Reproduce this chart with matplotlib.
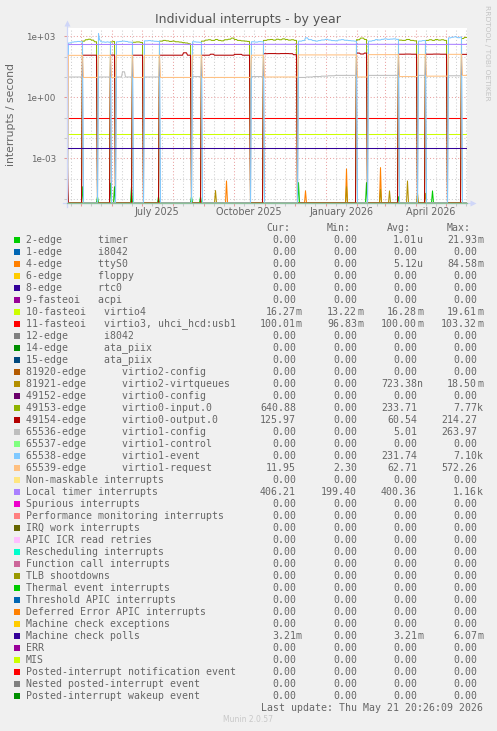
import numpy as np
import matplotlib
matplotlib.use('Agg')
import matplotlib.pyplot as plt
import matplotlib.dates as mdates
from matplotlib.patches import Rectangle
from matplotlib.ticker import FixedLocator, FixedFormatter, NullFormatter
from datetime import datetime, timedelta

# ------------------------------------------------------------------------------
# Data (daily averages, 400 days ending at last update)
# ------------------------------------------------------------------------------
end_time = datetime(2026, 5, 21, 20, 26, 9)
n_days = 400

# reboot days (counted from left edge); between them either the virtio1 set
# ('B') or the virtio0 set ('A') of devices was carrying the traffic
boot_days = [15, 30, 43, 48, 65, 76, 92, 124, 134, 183, 196, 230, 289, 300,
             331, 350, 358, 380, 394]
seg_mode = ['B', 'A', 'B', 'A', 'B', 'A', 'B', 'A', 'B', 'A',
            'B', 'A', 'B', 'A', 'B', 'A', 'B', 'A', 'B', 'A']

# 65538-edge virtio1-event, one list per 'B' segment
virtio1_event = [
    [470, 520, 540, 560, 540],
    [1350, 700, 580, 540, 520, 540, 520, 510, 520, 540, 520, 510, 520],
    [540, 560, 580, 560, 520, 510],
    [600, 620, 590, 570, 560],
    [540, 520, 510],
    [540, 520, 550, 540],
    [580, 620, 840, 690, 620, 580, 620, 660, 710, 660, 620, 600, 660, 690,
     640, 620, 600, 580],
    [580, 620, 690, 660, 710, 750, 710, 730, 750, 710],
    [580, 620],
    [840, 900, 950, 860, 920],
]
# 65536-edge virtio1-config, one list per 'B' segment
virtio1_config = [
    [10], [10], [10, 10, 18, 10, 10, 10], [10], [10.5], [10.5],
    [9.5, 10, 10.5, 11, 11.5, 12, 12, 12], [12], [12], [11.5],
]
# 65539-edge virtio1-request: level in 'B' segments / in 'A' segments
virtio1_request_b = [116, 116, 116, 116, 118, 118, 122, 126, 128, 130]
virtio1_request_a = [9.5, 9.5, 9.5, 9.5, 9.5, 10, 10, 10.5, 11, 12]

# 49153-edge virtio0-input.0, one list per 'A' segment
virtio0_input = [
    [580, 680, 720, 650, 540],
    [530, 560],
    [510, 530, 500],
    [580, 630, 600, 560, 580, 540, 520, 490, 470, 430],
    [580, 650, 680, 630, 700, 630, 600, 680, 720, 820, 700, 630, 600, 580, 560],
    [630, 680, 700, 650, 720, 680, 750, 700, 650, 680, 630],
    [680, 820, 700],
    [650, 630, 700, 630, 600],
    [630, 680, 630, 700, 650, 680, 630],
    [780, 880],
]
# 49154-edge virtio0-output.0, one list per 'A' segment
virtio0_output = [
    [118],
    [120],
    [118],
    [118, 118, 118, 118, 118, 118, 155, 118],
    [118, 118, 132, 118, 118, 118, 118, 118, 130, 130, 118, 118],
    [140, 142, 142, 140, 142, 142, 140, 125],
    [150, 135, 150],
    [132, 134, 132],
    [132, 134, 132],
    [130],
]
output_day0 = 4e-4

# Local timer interrupts, level per segment
loc_timer = [395, 400, 400, 395, 400, 400, 405, 400, 395, 400,
             405, 400, 405, 400, 405, 400, 405, 395, 405, 400]

# flat series
irq10_level = 0.01628
irq11_level = 0.1000
mcp_level = 0.00321

# small one-day spikes near the bottom
timer_days = [0, 15, 30, 43, 47, 64, 91, 124, 133, 231, 299, 331, 365]
timer_vals = [2.3e-5, 4e-5, 1.3e-5, 6e-5, 4e-5, 4e-5, 1.3e-5, 1.3e-5, 1.3e-5,
              6.4e-5, 6.4e-5, 1.3e-5, 2.5e-5]
ttys_days = [159, 238, 279, 313]
ttys_vals = [7.7e-5, 2.5e-5, 3.0e-4, 3.5e-4]
virtq_days = [148, 279, 313, 322, 340, 350, 358]
virtq_vals = [2.6e-5, 4e-5, 3e-5, 2.5e-5, 7.7e-5, 1.9e-5, 1.9e-5]

# legend
labels = [
    '2-edge      timer', '1-edge      i8042', '4-edge      ttyS0',
    '6-edge      floppy', '8-edge      rtc0', '9-fasteoi   acpi',
    '10-fasteoi   virtio4', '11-fasteoi   virtio3, uhci_hcd:usb1',
    '12-edge      i8042', '14-edge      ata_piix', '15-edge      ata_piix',
    '81920-edge      virtio2-config', '81921-edge      virtio2-virtqueues',
    '49152-edge      virtio0-config', '49153-edge      virtio0-input.0',
    '49154-edge      virtio0-output.0', '65536-edge      virtio1-config',
    '65537-edge      virtio1-control', '65538-edge      virtio1-event',
    '65539-edge      virtio1-request', 'Non-maskable interrupts',
    'Local timer interrupts', 'Spurious interrupts',
    'Performance monitoring interrupts', 'IRQ work interrupts',
    'APIC ICR read retries', 'Rescheduling interrupts',
    'Function call interrupts', 'TLB shootdowns', 'Thermal event interrupts',
    'Threshold APIC interrupts', 'Deferred Error APIC interrupts',
    'Machine check exceptions', 'Machine check polls', 'ERR', 'MIS',
    'Posted-interrupt notification event', 'Nested posted-interrupt event',
    'Posted-interrupt wakeup event',
]
colors = [
    '#00CC00', '#0066B3', '#FF8000', '#FFCC00', '#330099', '#990099',
    '#CCFF00', '#FF0000', '#808080', '#008F00', '#00487D', '#B35A00',
    '#B38F00', '#6B006B', '#8FB300', '#B30000', '#BEBEBE', '#80FF80',
    '#80C9FF', '#FFC080', '#FFE680', '#AA80FF', '#EE00CC', '#FF8080',
    '#666600', '#FFBFFF', '#00FFCC', '#CC6699', '#999900', '#00CC00',
    '#0066B3', '#FF8000', '#FFCC00', '#330099', '#990099', '#CCFF00',
    '#FF0000', '#808080', '#008F00',
]
cur_vals = [0] * 39
min_vals = [0] * 39
avg_vals = [0] * 39
max_vals = [0] * 39
stats = {
    0: (0, 0, 1.01e-6, 21.93e-3),
    2: (0, 0, 5.12e-6, 84.58e-3),
    6: (16.27e-3, 13.22e-3, 16.28e-3, 19.61e-3),
    7: (100.01e-3, 96.83e-3, 100.00e-3, 103.32e-3),
    12: (0, 0, 723.38e-9, 18.50e-3),
    14: (640.88, 0, 233.71, 7.77e3),
    15: (125.97, 0, 60.54, 214.27),
    16: (0, 0, 5.01, 263.97),
    18: (0, 0, 231.74, 7.10e3),
    19: (11.95, 2.30, 62.71, 572.26),
    21: (406.21, 199.40, 400.36, 1.16e3),
    33: (3.21e-3, 0, 3.21e-3, 6.07e-3),
}
for k, (c, mn, av, mx) in stats.items():
    cur_vals[k], min_vals[k], avg_vals[k], max_vals[k] = c, mn, av, mx

# ------------------------------------------------------------------------------
# Build daily arrays
# ------------------------------------------------------------------------------
edges = [0] + boot_days + [n_days]


def fill(arr, start, stop, vals):
    stop = min(stop, n_days)
    n = stop - start
    for j in range(n):
        arr[start + j] = vals[j * len(vals) // n]


series = {i: np.zeros(n_days) for i in range(39)}
ib = ia = 0
for seg, (s, e, mode) in enumerate(zip(edges[:-1], edges[1:], seg_mode)):
    if mode == 'B':
        fill(series[18], s + 1, e + 1, virtio1_event[ib])
        fill(series[16], s + 1, e + 1, virtio1_config[ib])
        fill(series[19], s + 1, e + 1, [virtio1_request_b[ib]])
        ib += 1
    else:
        fill(series[14], s, e, virtio0_input[ia])
        fill(series[15], s, e, virtio0_output[ia])
        fill(series[19], s + 1, e + 1, [virtio1_request_a[ia]])
        ia += 1
    fill(series[21], s, e, [loc_timer[seg]])
series[15][0] = output_day0
series[6][:] = irq10_level
series[7][:] = irq11_level
series[33][:] = mcp_level
series[0][timer_days] = timer_vals
series[2][ttys_days] = ttys_vals
series[12][virtq_days] = virtq_vals

start_time = end_time - timedelta(days=n_days)
t = [start_time + timedelta(days=d + 0.5) for d in range(n_days)]

# ------------------------------------------------------------------------------
# Plotting
# ------------------------------------------------------------------------------
W, H = 497, 731
font_col = '#666666'
ybot, ytop = 6.35e-6, 2570

fig = plt.figure(figsize=(W / 100, H / 100), dpi=100, facecolor='#F0F0F0')
ax = fig.add_axes([67 / W, 1 - 203 / H, 400 / W, 175 / H], facecolor='white')
ax.set_yscale('log')
ax.set_ylim(ybot, ytop)
ax.set_xlim(start_time, end_time)

for i, c in enumerate(colors):
    ax.plot(t, np.maximum(series[i], ybot), color=c, lw=0.75, zorder=2)

# grid
ax.yaxis.set_major_locator(FixedLocator([1e-3, 1, 1e3]))
ax.yaxis.set_major_formatter(FixedFormatter(['1e-03', '1e+00', '1e+03']))
ax.yaxis.set_minor_locator(FixedLocator([1e-5, 1e-4, 1e-2, 1e-1, 10, 100]))
ax.yaxis.set_minor_formatter(NullFormatter())
ax.xaxis.set_major_locator(mdates.MonthLocator())
ax.xaxis.set_major_formatter(NullFormatter())
ax.xaxis.set_minor_locator(mdates.DayLocator(bymonthday=[11, 21]))
ax.xaxis.set_minor_formatter(NullFormatter())
ax.set_axisbelow(True)
ax.grid(True, which='major', color='#eaa3a3', ls=(0, (1, 2)), lw=0.75)
ax.grid(True, which='minor', color='#cfcfcf', ls=(0, (1, 2)), lw=0.75)
ax.tick_params(which='major', length=2, width=0.75, color='#e39a9a',
               labelsize=6.3, labelcolor=font_col, pad=6)
ax.tick_params(which='minor', length=2, width=0.75, color='#c8c8c8')
for sp in ax.spines.values():
    sp.set_visible(False)

# axes lines with arrows
axis_col = '#CFD6F8'
ax.plot([-4 / 400, 1 + 5 / 400], [0, 0], transform=ax.transAxes,
        color=axis_col, lw=0.9, clip_on=False, zorder=4)
ax.plot([0, 1], [0, 0], transform=ax.transAxes,
        color='#8cc29a', lw=0.9, clip_on=False, zorder=5)
ax.plot([0, 0], [-4 / 175, 1 + 4 / 175], transform=ax.transAxes,
        color=axis_col, lw=0.9, clip_on=False, zorder=4)
ax.plot([1 + 6 / 400], [0], marker='>', ms=4, color=axis_col, mec='none',
        transform=ax.transAxes, clip_on=False, zorder=4)
ax.plot([0], [1 + 5 / 175], marker='^', ms=4, color=axis_col, mec='none',
        transform=ax.transAxes, clip_on=False, zorder=4)

# quarter labels centred on mid-month
for d, lab in [(datetime(2025, 7, 16), 'July 2025'),
               (datetime(2025, 10, 16), 'October 2025'),
               (datetime(2026, 1, 16), 'January 2026'),
               (datetime(2026, 4, 16), 'April 2026')]:
    ax.text(d, -9 / 175, lab, transform=ax.get_xaxis_transform(),
            ha='center', va='center', fontsize=6.9, color=font_col)

fig.text(248 / W, 1 - 19 / H, 'Individual interrupts - by year',
         ha='center', va='center', fontsize=9, color='#555555')
fig.text(11 / W, 1 - 115 / H, 'interrupts / second', rotation=90,
         ha='center', va='center', fontsize=7.8, color=font_col)
fig.text(487 / W, 1 - 5 / H, 'RRDTOOL / TOBI OETIKER', rotation=270,
         ha='center', va='top', fontsize=5.4, color='#c4c4c4')

# legend
mono = 'DejaVu Sans Mono'
lsize = 7.1


def si(v):
    if v == 0:
        return '0.00', ' '
    e = int(np.floor(np.log10(abs(v)) / 3 + 1e-9)) * 3
    suffix = {-9: 'n', -6: 'u', -3: 'm', 0: ' ', 3: 'k'}[e]
    return '%.2f' % (v / 10 ** e), suffix


col_right = [296, 357, 417, 477]
for x, h in zip(col_right, ['Cur:', 'Min:', 'Avg:', 'Max:']):
    fig.text((x - 6) / W, 1 - 228 / H, h, ha='right', va='center',
             family=mono, fontsize=lsize, color=font_col)

for i, (lab, c) in enumerate(zip(labels, colors)):
    yrow = 240 + 12 * i
    fig.add_artist(Rectangle((14 / W, 1 - (yrow + 3) / H), 6 / W, 6 / H,
                             transform=fig.transFigure, facecolor=c,
                             edgecolor='none'))
    fig.text(26 / W, 1 - yrow / H, lab, ha='left', va='center',
             family=mono, fontsize=lsize, color=font_col)
    vals = [cur_vals[i], min_vals[i], avg_vals[i], max_vals[i]]
    for x, v in zip(col_right, vals):
        num, suf = si(v)
        fig.text(x / W, 1 - yrow / H, num, ha='right', va='center',
                 family=mono, fontsize=lsize, color=font_col)
        if suf.strip():
            fig.text(x / W, 1 - yrow / H, suf, ha='left', va='center',
                     family=mono, fontsize=lsize, color=font_col)

fig.text(483 / W, 1 - 708 / H, 'Last update: Thu May 21 20:26:09 2026',
         ha='right', va='center', family=mono, fontsize=lsize, color=font_col)
fig.text(248 / W, 1 - 720 / H, 'Munin 2.0.57', ha='center', va='center',
         fontsize=5.5, color='#c8c8c8')

fig.savefig('out.png', dpi=100, facecolor=fig.get_facecolor())
